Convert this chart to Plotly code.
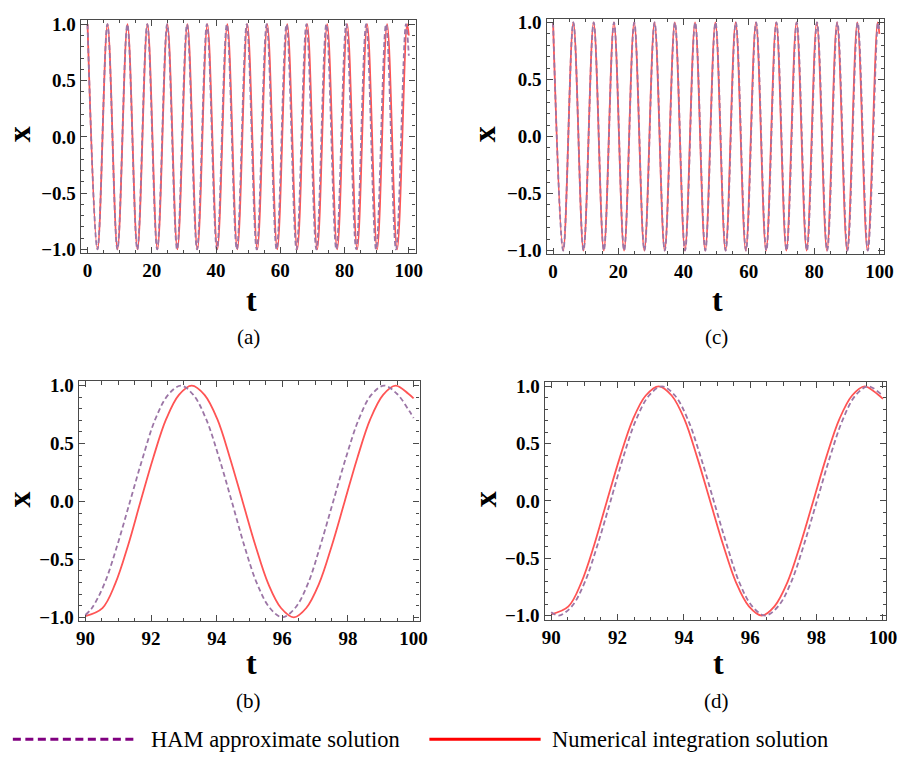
import plotly.graph_objects as go

# ---------------- data ----------------
# Full runs, panels (a) and (c): times of successive maxima/minima of x(t)
# (x alternates +1 / -1), then the value reached at t = 100.
t_numerical = [0, 3.11, 6.22, 9.32, 12.43, 15.54, 18.65, 21.76, 24.86, 27.97, 31.08, 34.19,
               37.30, 40.40, 43.51, 46.62, 49.73, 52.84, 55.94, 59.05, 62.16, 65.27, 68.38,
               71.48, 74.59, 77.70, 80.81, 83.92, 87.02, 90.13, 93.24, 96.35, 99.46, 100]
x_numerical = [1, -1, 1, -1, 1, -1, 1, -1, 1, -1, 1, -1, 1, -1, 1, -1, 1,
               -1, 1, -1, 1, -1, 1, -1, 1, -1, 1, -1, 1, -1, 1, -1, 1, 0.90]

t_ham_a = [0, 3.10, 6.19, 9.29, 12.39, 15.49, 18.58, 21.68, 24.78, 27.87, 30.97, 34.07,
           37.16, 40.26, 43.36, 46.46, 49.55, 52.65, 55.75, 58.84, 61.94, 65.04, 68.13,
           71.23, 74.33, 77.43, 80.52, 83.62, 86.72, 89.81, 92.91, 96.01, 99.10, 100]
x_ham_a = [1, -1, 1, -1, 1, -1, 1, -1, 1, -1, 1, -1, 1, -1, 1, -1, 1,
           -1, 1, -1, 1, -1, 1, -1, 1, -1, 1, -1, 1, -1, 1, -1, 1, 0.72]

t_ham_c = [0, 3.11, 6.22, 9.33, 12.45, 15.56, 18.67, 21.78, 24.89, 28.00, 31.12, 34.23,
           37.34, 40.45, 43.56, 46.67, 49.78, 52.90, 56.01, 59.12, 62.23, 65.34, 68.45,
           71.56, 74.68, 77.79, 80.90, 84.01, 87.12, 90.23, 93.35, 96.46, 99.57, 100]
x_ham_c = [1, -1, 1, -1, 1, -1, 1, -1, 1, -1, 1, -1, 1, -1, 1, -1, 1,
           -1, 1, -1, 1, -1, 1, -1, 1, -1, 1, -1, 1, -1, 1, -1, 1, 0.92]

# Close-ups, panels (b) and (d): runs plotted from t = 90 to t = 100
t_numerical_zoom = [90, 90.52, 90.91, 91.30, 91.68, 92.07, 92.46, 92.85, 93.24, 93.63, 94.02,
                    94.40, 94.79, 95.18, 95.57, 95.96, 96.35, 96.73, 97.12, 97.51, 97.90,
                    98.29, 98.68, 99.07, 99.45, 99.84, 100]
x_numerical_zoom = [-0.99, -0.92, -0.71, -0.38, 0, 0.38, 0.71, 0.92, 1, 0.92, 0.71,
                    0.38, 0, -0.38, -0.71, -0.92, -1, -0.92, -0.71, -0.38, 0,
                    0.38, 0.71, 0.92, 1, 0.93, 0.89]

t_ham_b = [90, 90.20, 90.58, 90.97, 91.36, 91.75, 92.13, 92.52, 92.91, 93.29, 93.68, 94.07,
           94.46, 94.84, 95.23, 95.62, 96.00, 96.39, 96.78, 97.16, 97.55, 97.94, 98.33,
           98.71, 99.10, 99.49, 99.87, 100]
x_ham_b = [-0.98, -0.92, -0.71, -0.38, 0, 0.38, 0.71, 0.92, 1, 0.92, 0.71, 0.38,
           0, -0.38, -0.71, -0.92, -1, -0.92, -0.71, -0.38, 0, 0.38, 0.71,
           0.92, 1, 0.93, 0.78, 0.72]

t_ham_d = [90, 90.23, 90.62, 91.01, 91.40, 91.79, 92.17, 92.56, 92.95, 93.34, 93.73, 94.12,
           94.51, 94.90, 95.29, 95.67, 96.06, 96.45, 96.84, 97.23, 97.62, 98.01, 98.40,
           98.79, 99.17, 99.56, 99.95, 100]
x_ham_d = [-0.97, -1, -0.92, -0.71, -0.38, 0, 0.38, 0.71, 0.92, 1, 0.92, 0.71,
           0.38, 0, -0.38, -0.71, -0.92, -1, -0.92, -0.71, -0.38, 0, 0.38,
           0.71, 0.92, 1, 0.93, 0.92]

y_tick_vals = [-1.0, -0.5, 0.0, 0.5, 1.0]
y_tick_text = ["\u22121.0", "\u22120.5", "0.0", "0.5", "1.0"]
x_ticks_full = [0, 20, 40, 60, 80, 100]
x_ticks_zoom = [90, 92, 94, 96, 98, 100]
legend_labels = ["HAM approximate solution", "Numerical integration solution"]

# ---------------- styling ----------------
W, H = 914, 760
RED = "#ff5454"
PURPLE_PLOT = "#9c76a6"
FRAME = "#4a4a4a"
SERIF = "Liberation Serif"

def px(x):
    return x / W

def py(y):
    return 1 - y / H

panels = {
    # name: axes, x-domain px, y-domain px (top,bottom), x range, y range, ticks, minor dtick,
    #       numerical data, HAM data
    "a": ("x", "y", (79, 419), (13, 251), [-2.1, 102.1], [-1.035, 1.04], x_ticks_full, 5,
          (t_numerical, x_numerical), (t_ham_a, x_ham_a)),
    "c": ("x2", "y2", (552, 895), (12, 252), [-2.0, 101.5], [-1.034, 1.032], x_ticks_full, 5,
          (t_numerical, x_numerical), (t_ham_c, x_ham_c)),
    "b": ("x3", "y3", (77, 423), (381, 626), [89.8, 100.18], [-1.036, 1.04], x_ticks_zoom, 0.5,
          (t_numerical_zoom, x_numerical_zoom), (t_ham_b, x_ham_b)),
    "d": ("x4", "y4", (550, 897), (382, 625), [89.8, 100.1], [-1.043, 1.038], x_ticks_zoom, 0.5,
          (t_numerical_zoom, x_numerical_zoom), (t_ham_d, x_ham_d)),
}

fig = go.Figure()
layout_axes = {}
annotations = []

tickfont = dict(family=SERIF, size=19, color="black", weight="bold")
title_font = dict(family=SERIF, size=32, color="black", weight="bold")

for name, (xa, ya, xd, yd, xr, yr, xt, mdt, num, ham) in panels.items():
    fig.add_trace(go.Scatter(
        x=num[0], y=num[1], mode="lines", xaxis=xa, yaxis=ya,
        line=dict(color=RED, width=1.8, shape="spline", smoothing=1),
        name=legend_labels[1], showlegend=False, hoverinfo="skip"))
    fig.add_trace(go.Scatter(
        x=ham[0], y=ham[1], mode="lines", xaxis=xa, yaxis=ya,
        line=dict(color=PURPLE_PLOT, width=1.8, dash="5px,3px", shape="spline", smoothing=1),
        name=legend_labels[0], showlegend=False, hoverinfo="skip"))

    xkey = "xaxis" + xa[1:]
    ykey = "yaxis" + ya[1:]
    common = dict(showline=True, linecolor=FRAME, linewidth=1.3, mirror="ticks",
                  ticks="inside", ticklen=6, tickwidth=1, tickcolor=FRAME,
                  showgrid=False, zeroline=False, tickfont=tickfont, fixedrange=True)
    layout_axes[xkey] = dict(
        domain=[px(xd[0]), px(xd[1])], range=xr, anchor=ya,
        tickvals=xt, ticktext=[str(v) for v in xt],
        minor=dict(ticks="inside", dtick=mdt, tick0=xt[0], ticklen=3.5, tickcolor=FRAME,
                   showgrid=False),
        **common)
    layout_axes[ykey] = dict(
        domain=[py(yd[1]), py(yd[0])], range=yr, anchor=xa,
        tickvals=y_tick_vals, ticktext=y_tick_text,
        minor=dict(ticks="inside", dtick=0.1, tick0=0, ticklen=3.5, tickcolor=FRAME,
                   showgrid=False),
        **common)

# axis titles and captions
title_pos = {
    "a": ((16, 130), (252, 298), (249, 336)),
    "c": ((488, 130), (726, 299), (725, 336)),
    "b": ((16, 502), (252, 668), (249, 707)),
    "d": ((489, 502), (727, 668), (725, 707)),
}
for name, (xpos, tpos, cpos) in title_pos.items():
    annotations.append(dict(text="x", x=px(xpos[0]), y=py(xpos[1]), xref="paper", yref="paper",
                            showarrow=False, textangle=-90, font=title_font,
                            xanchor="center", yanchor="middle"))
    annotations.append(dict(text="t", x=px(tpos[0]), y=py(tpos[1]), xref="paper", yref="paper",
                            showarrow=False, font=title_font, xanchor="center", yanchor="middle"))
    annotations.append(dict(text=f"({name})", x=px(cpos[0]), y=py(cpos[1]), xref="paper",
                            yref="paper", showarrow=False,
                            font=dict(family=SERIF, size=21, color="black"),
                            xanchor="center", yanchor="middle"))

# legend row at the bottom
shapes = [
    dict(type="line", xref="paper", yref="paper", x0=px(10), x1=px(135), y0=py(746), y1=py(746),
         line=dict(color="#800080", width=3, dash="8px,4.5px")),
    dict(type="line", xref="paper", yref="paper", x0=px(433), x1=px(546), y0=py(746), y1=py(746),
         line=dict(color="#ff0000", width=3)),
]
annotations.append(dict(text=legend_labels[0], x=px(148), y=py(746), xref="paper", yref="paper",
                        showarrow=False, xanchor="left", yanchor="middle",
                        font=dict(family=SERIF, size=22.5, color="black")))
annotations.append(dict(text=legend_labels[1], x=px(556), y=py(746), xref="paper", yref="paper",
                        showarrow=False, xanchor="left", yanchor="middle",
                        font=dict(family=SERIF, size=22.5, color="black")))

fig.update_layout(
    width=W, height=H,
    margin=dict(l=0, r=0, t=0, b=0),
    paper_bgcolor="white", plot_bgcolor="white",
    showlegend=False,
    annotations=annotations,
    shapes=shapes,
    **layout_axes,
)

fig.write_html("out.html",
               config={"displayModeBar": False},
               post_script="document.body.style.margin='0';document.body.style.overflow='hidden';")
